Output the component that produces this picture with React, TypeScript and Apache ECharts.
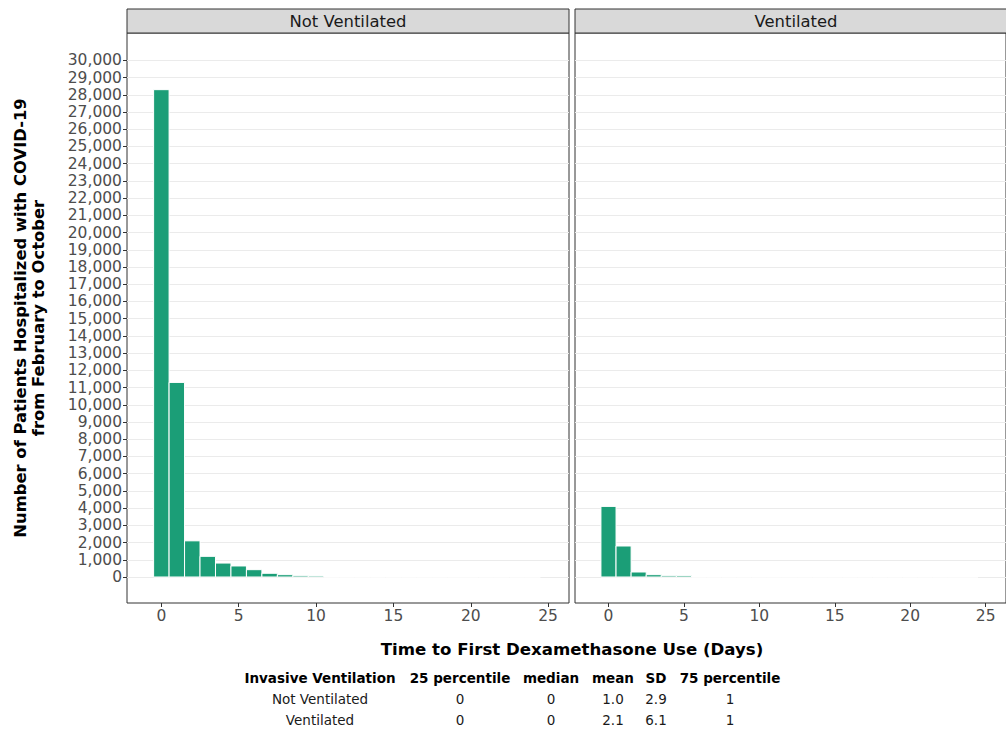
import React, { useEffect, useRef } from "react";
import * as echarts from "echarts";

const days = [0, 1, 2, 3, 4, 5, 6, 7, 8, 9, 10, 11, 12, 13, 14, 15, 16, 17, 18, 19, 20, 21, 22, 23, 24];
const notVentilated = [28300, 11300, 2100, 1200, 810, 640, 425, 215, 135, 75, 60, 0, 0, 0, 0, 0, 0, 0, 0, 0, 0, 0, 0, 0, 0];
const ventilated = [4100, 1800, 290, 135, 75, 80, 0, 0, 0, 0, 0, 0, 0, 0, 0, 0, 0, 0, 0, 0, 0, 0, 0, 0, 0];
const panelNames = ["Not Ventilated", "Ventilated"];
const yTicks = [0, 1000, 2000, 3000, 4000, 5000, 6000, 7000, 8000, 9000, 10000, 11000, 12000, 13000, 14000, 15000, 16000, 17000, 18000, 19000, 20000, 21000, 22000, 23000, 24000, 25000, 26000, 27000, 28000, 29000, 30000];
const xTicks = [0, 5, 10, 15, 20, 25];
const yTitle = "Number of Patients Hospitalized with COVID-19\nfrom February to October";
const xTitle = "Time to First Dexamethasone Use (Days)";
const tableHeader = ["Invasive Ventilation", "25 percentile", "median", "mean", "SD", "75 percentile"];
const tableRows = [
  ["Not Ventilated", "0", "0", "1.0", "2.9", "1"],
  ["Ventilated", "0", "0", "2.1", "6.1", "1"],
];

const FONT = "DejaVu Sans";
const BORDER = "#333333";
const GREEN = "#1B9E77";

const X_MIN = -2.22;
const X_MAX = 26.35;
const Y_MIN = -1510;
const Y_MAX = 31591;

const gridLefts = [127, 575];
const GRID_W = 442;
const GRID_TOP = 33;
const GRID_H = 570;
const tableCols = [320, 460, 551, 613, 656, 730];

export default function App() {
  const ref = useRef<HTMLDivElement>(null);
  useEffect(() => {
    if (!ref.current) return;
    const chart = echarts.init(ref.current, null, { renderer: "svg" });
    const seriesData = [notVentilated, ventilated];

    const renderItem = (params: any, api: any) => {
      const x = api.value(0);
      const y = api.value(1);
      const p1 = api.coord([x - 0.5, y]);
      const p2 = api.coord([x + 0.5, 0]);
      return {
        type: "rect",
        shape: { x: p1[0], y: p1[1], width: p2[0] - p1[0], height: p2[1] - p1[1] },
        style: { fill: GREEN, stroke: "#ffffff", lineWidth: 1 },
      };
    };

    const graphics: any[] = [];
    panelNames.forEach((name, i) => {
      graphics.push({
        type: "rect",
        shape: { x: gridLefts[i], y: 9, width: GRID_W, height: GRID_TOP - 9 },
        style: { fill: "#d9d9d9", stroke: BORDER, lineWidth: 1 },
        z: 10,
      });
      graphics.push({
        type: "text",
        x: gridLefts[i] + GRID_W / 2,
        y: 21,
        style: { text: name, font: `16.4px '${FONT}'`, fill: "#1a1a1a", align: "center", verticalAlign: "middle" },
        z: 11,
      });
    });
    graphics.push({
      type: "text",
      x: 29,
      y: 318,
      rotation: Math.PI / 2,
      style: {
        text: yTitle,
        font: `bold 16.4px '${FONT}'`,
        fill: "#000",
        align: "center",
        verticalAlign: "middle",
        lineHeight: 18,
      },
    });
    graphics.push({
      type: "text",
      x: 572,
      y: 649,
      style: { text: xTitle, font: `bold 16.6px '${FONT}'`, fill: "#000", align: "center", verticalAlign: "middle" },
    });
    tableHeader.forEach((h, c) => {
      graphics.push({
        type: "text",
        x: tableCols[c],
        y: 678,
        style: { text: h, font: `bold 13.5px '${FONT}'`, fill: "#000", align: "center", verticalAlign: "middle" },
      });
    });
    tableRows.forEach((row, r) => {
      row.forEach((cell, c) => {
        graphics.push({
          type: "text",
          x: tableCols[c],
          y: 699 + r * 21,
          style: { text: cell, font: `13.5px '${FONT}'`, fill: "#1a1a1a", align: "center", verticalAlign: "middle" },
        });
      });
    });

    const option: any = {
      animation: false,
      backgroundColor: "#ffffff",
      textStyle: { fontFamily: FONT },
      grid: gridLefts.map((left) => ({
        left,
        top: GRID_TOP,
        width: GRID_W,
        height: GRID_H,
        show: true,
        backgroundColor: "#ffffff",
        borderColor: BORDER,
        borderWidth: 1,
      })),
      xAxis: gridLefts.map((_, i) => ({
        type: "value",
        gridIndex: i,
        min: X_MIN,
        max: X_MAX,
        axisLine: { show: false, onZero: false },
        axisTick: { show: true, customValues: xTicks, length: 4, lineStyle: { color: BORDER } },
        axisLabel: {
          show: true,
          customValues: xTicks,
          color: "#4d4d4d",
          fontSize: 15.5,
          fontFamily: FONT,
          margin: 5,
        },
        splitLine: { show: false },
      })),
      yAxis: gridLefts.map((_, i) => ({
        type: "value",
        gridIndex: i,
        min: Y_MIN,
        max: Y_MAX,
        axisLine: { show: false, onZero: false },
        axisTick: { show: i === 0, customValues: yTicks, length: 4, lineStyle: { color: BORDER } },
        axisLabel: {
          show: i === 0,
          customValues: yTicks,
          color: "#4d4d4d",
          fontSize: 15.5,
          fontFamily: FONT,
          margin: 5,
          formatter: (v: number) => v.toLocaleString("en-US"),
        },
        splitLine: { show: true, lineStyle: { color: "#ebebeb", width: 1 } },
      })),
      series: seriesData.map((vals, i) => ({
        type: "custom",
        xAxisIndex: i,
        yAxisIndex: i,
        renderItem,
        data: days.map((d, k) => [d, vals[k]]),
        clip: false,
      })),
      graphic: graphics,
    };
    chart.setOption(option);
    return () => chart.dispose();
  }, []);
  return <div ref={ref} style={{ position: "absolute", left: 0, top: 0, width: 1006, height: 734 }} />;
}
